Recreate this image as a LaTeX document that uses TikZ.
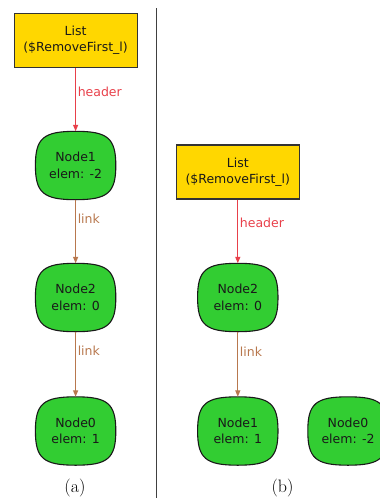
\documentclass[tikz,border=0pt]{standalone}
\usepackage{fontspec}
\setsansfont{DejaVu Sans}
\usetikzlibrary{arrows.meta,calc,backgrounds}
\definecolor{listyellow}{HTML}{FFD700}
\definecolor{objgreen}{HTML}{32CD32}
\definecolor{hdrred}{HTML}{E8404A}
\definecolor{linkbrown}{HTML}{B8784E}
\definecolor{edgegray}{HTML}{333333}
\newcommand\blobk{0.8}
\newcommand\drawblob[1]{\draw[blobshape] (#1.north) .. controls ($(#1.north)!\blobk!(#1.north east)$) and ($(#1.east)!\blobk!(#1.north east)$) .. (#1.east) .. controls ($(#1.east)!\blobk!(#1.south east)$) and ($(#1.south)!\blobk!(#1.south east)$) .. (#1.south) .. controls ($(#1.south)!\blobk!(#1.south west)$) and ($(#1.west)!\blobk!(#1.south west)$) .. (#1.west) .. controls ($(#1.west)!\blobk!(#1.north west)$) and ($(#1.north)!\blobk!(#1.north west)$) .. (#1.north) -- cycle;}
\tikzset{
  listbox/.style={draw=edgegray, fill=listyellow, line width=1.1pt, minimum width=123pt, minimum height=54pt, inner sep=0pt, align=center, text=black!90, font=\sffamily\fontsize{12.5}{16}\selectfont},
  obj/.style={minimum width=80pt, minimum height=68pt, inner sep=0pt, align=center, text=black!90, font=\sffamily\fontsize{12.5}{16.5}\selectfont},
  blobshape/.style={draw=black!90, fill=objgreen, line width=1.1pt},
  hdr/.style={draw=hdrred, line width=1.3pt, -{Triangle[length=6.5pt,width=5pt]}},
  lnk/.style={draw=linkbrown, line width=1.3pt, -{Triangle[length=6.5pt,width=5pt]}},
  lbl/.style={right, inner sep=1.5pt, font=\sffamily\fontsize{12.5}{15}\selectfont},
  capt/.style={font=\fontsize{18}{20}\selectfont},
  sepline/.style={draw=black!75, line width=1.2pt}
}
\begin{document}
\begin{tikzpicture}[x=1pt,y=-1pt]
\useasboundingbox (0,0) rectangle (380,498);
% panel (a)
\node[listbox] (la) at (75.6,40.5) {List\\(\$RemoveFirst\_l)};
\node[obj] (a1) at (75.6,165.5) {Node1\\elem: -2};
\node[obj] (a2) at (75.6,297.5) {Node2\\elem: 0};
\node[obj] (a0) at (75.6,431) {Node0\\elem: 1};
% panel (b)
\node[listbox] (lb) at (237.8,172) {List\\(\$RemoveFirst\_l)};
\node[obj] (b2) at (237.8,297.5) {Node2\\elem: 0};
\node[obj] (b1) at (237.8,431) {Node1\\elem: 1};
\node[obj] (b0) at (348,431) {Node0\\elem: -2};
\begin{pgfonlayer}{background}
\drawblob{a1}
\drawblob{a2}
\drawblob{a0}
\drawblob{b2}
\drawblob{b1}
\drawblob{b0}
\end{pgfonlayer}
% connectors
\draw[hdr] (la.south) -- node[lbl, pos=0.37, text=hdrred] {header} (a1.north);
\draw[lnk] (a1.south) -- node[lbl, pos=0.3, text=linkbrown] {link} (a2.north);
\draw[lnk] (a2.south) -- node[lbl, pos=0.3, text=linkbrown] {link} (a0.north);
\draw[hdr] (lb.south) -- node[lbl, pos=0.37, text=hdrred] {header} (b2.north);
\draw[lnk] (b2.south) -- node[lbl, pos=0.31, text=linkbrown] {link} (b1.north);
% separator
\coordinate (septop) at (156.3,8);
\coordinate (sepbot) at (156.3,498);
\draw[sepline] (septop) -- (sepbot);
% captions
\node[capt] (capa) at (75,488) {(a)};
\node[capt] (capb) at (282.5,488) {(b)};
\end{tikzpicture}
\end{document}
